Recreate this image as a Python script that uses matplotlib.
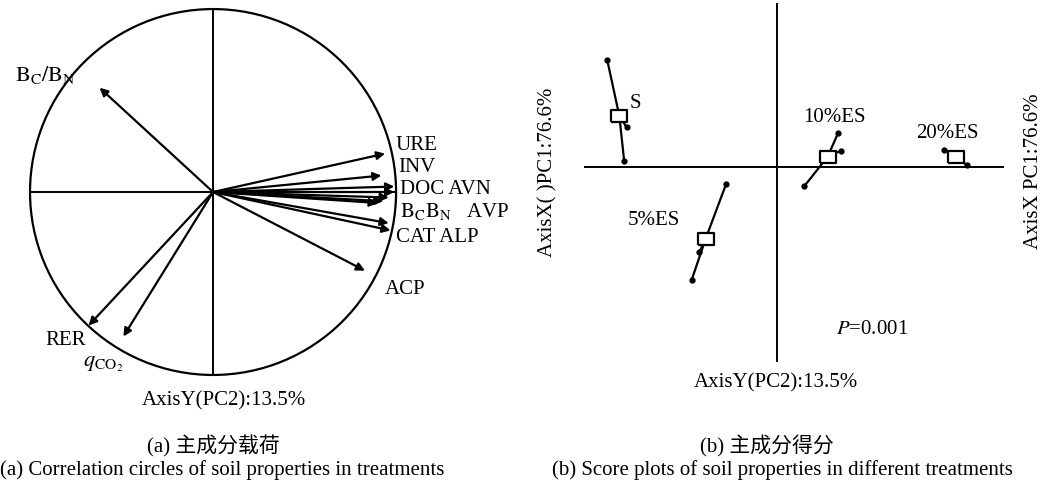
import numpy as np
import matplotlib.pyplot as plt
from matplotlib.patches import Circle

plt.rcParams['font.family'] = ['Liberation Serif', 'Noto Sans CJK SC']
plt.rcParams['mathtext.fontset'] = 'stix'

# loadings (PC1, PC2)
var_names = ['BC/BN', 'URE', 'INV', 'DOC', 'AVN', 'BC', 'BN', 'AVP',
             'CAT', 'ALP', 'ACP', 'RER', 'qCO2']
pc1_load = [-0.62, 0.94, 0.92, 0.99, 0.99, 0.96, 0.93, 0.90,
            0.96, 0.97, 0.83, -0.68, -0.49]
pc2_load = [0.57, 0.21, 0.09, 0.03, 0.00, -0.03, -0.05, -0.06,
            -0.17, -0.21, -0.43, -0.73, -0.79]

# scores, three replicates per treatment
treatments = ['S', '5%ES', '10%ES', '20%ES']
score_x = [[-3.39, -3.00, -3.05],
           [-1.01, -1.55, -1.70],
           [1.23, 1.28, 0.55],
           [3.35, 3.80, 3.58]]
score_y = [[2.15, 0.80, 0.12],
           [-0.33, -1.70, -2.25],
           [0.69, 0.33, -0.38],
           [0.35, 0.05, 0.20]]

W, H = 1048, 485
fig = plt.figure(figsize=(W / 100, H / 100), dpi=100)


def px(x, y):
    return x / W, 1 - y / H


def ftext(x, y, s, **kw):
    kw.setdefault('fontsize', 15)
    kw.setdefault('ha', 'center')
    kw.setdefault('va', 'center')
    fig.text(*px(x, y), s, **kw)


# ---- (a) loadings
ax1 = fig.add_axes([0, 0, 524 / W, 1])
ax1.set_xlim(-1.164, 1.699)
ax1.set_ylim(-1.596, 1.055)
ax1.axis('off')
ax1.add_patch(Circle((0, 0), 1, fill=False, lw=1.6, color='black'))
ax1.plot([-1, 1], [0, 0], color='black', lw=1.4)
ax1.plot([0, 0], [-1, 1], color='black', lw=1.4)
for x, y in zip(pc1_load, pc2_load):
    ax1.annotate('', xy=(x, y), xytext=(0, 0),
                 arrowprops=dict(arrowstyle='-|>', lw=1.6, color='black',
                                 mutation_scale=12, shrinkA=0, shrinkB=0))

ftext(15, 75, r'$\mathrm{B_C/B_N}$', ha='left', fontsize=16)
ftext(396, 145, 'URE', ha='left')
ftext(398, 168, 'INV', ha='left')
ftext(400, 190, 'DOC AVN', ha='left')
ftext(400, 211, r'$\mathrm{B_CB_N}$   AVP', ha='left')
ftext(396, 238, 'CAT ALP', ha='left')
ftext(385, 290, 'ACP', ha='left')
ftext(45, 341, 'RER', ha='left')
ftext(83, 364, r'$q_{\mathrm{CO_2}}$', ha='left', fontsize=16)
ftext(224, 401, 'AxisY(PC2):13.5%')
ftext(213, 446, '(a) 主成分载荷')
ftext(222, 470, '(a) Correlation circles of soil properties in treatments')

# ---- (b) scores
ax2 = fig.add_axes([524 / W, 0, 524 / W, 1])
ax2.set_xlim(-5.054, 5.426)
ax2.set_ylim(-6.334, 3.366)
ax2.axis('off')
ax2.plot([-3.834, 4.526], [0, 0], color='black', lw=1.4)
ax2.plot([0, 0], [-3.868, 3.266], color='black', lw=1.4)

box = [(-1.5, -1), (1.5, -1), (1.5, 1), (-1.5, 1), (-1.5, -1)]
for xs, ys in zip(score_x, score_y):
    cx, cy = np.mean(xs), np.mean(ys)
    for x, y in zip(xs, ys):
        ax2.plot([cx, x], [cy, y], color='black', lw=1.6, zorder=2)
    ax2.plot(xs, ys, 'o', color='black', ms=3.5, zorder=3)
    ax2.plot(cx, cy, marker=box, ms=12, mfc='white', mec='black',
             mew=1.6, zorder=4)

ftext(630, 103, 'S', ha='left')
ftext(654, 221, '5%ES')
ftext(834, 117, '10%ES')
ftext(947, 133, '20%ES')
ftext(872, 330, r'$P$=0.001')
ftext(776, 383, 'AxisY(PC2):13.5%')
ftext(548, 172, 'AxisX( )PC1:76.6%', rotation=90)
ftext(1033, 171, 'AxisX PC1:76.6%', rotation=90)
ftext(767, 446, '(b) 主成分得分')
ftext(782, 470, '(b) Score plots of soil properties in different treatments')

fig.savefig('out.png', dpi=100)
